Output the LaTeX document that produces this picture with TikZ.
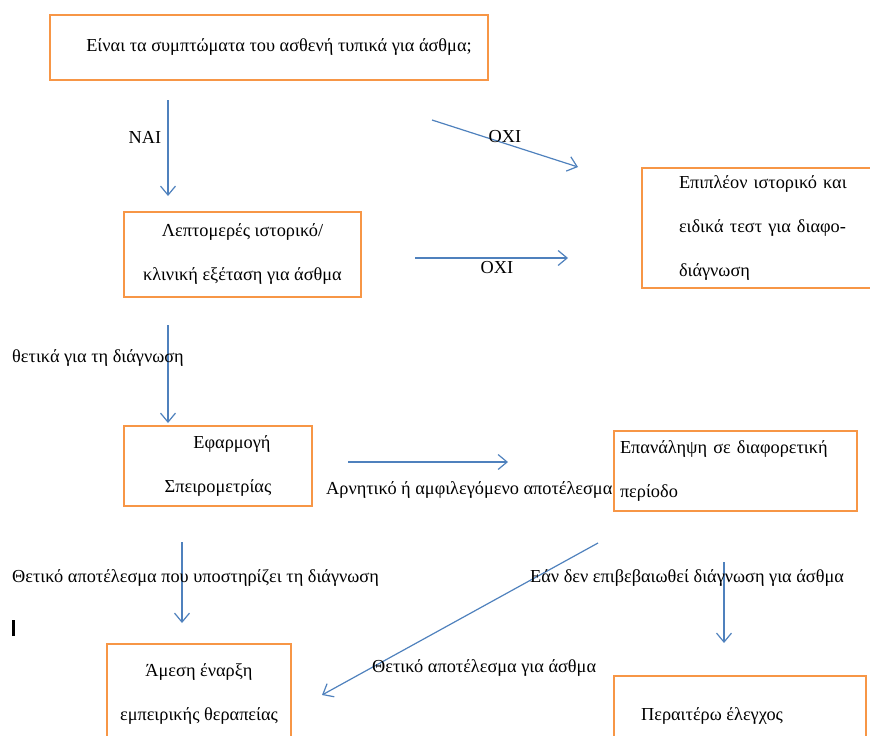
\documentclass[tikz,border=0pt]{standalone}
\usepackage{fontspec}
\setmainfont{Liberation Serif}
\usetikzlibrary{arrows.meta}
\definecolor{boxorange}{HTML}{F79646}
\definecolor{arrowblue}{HTML}{4F81BD}
\begin{document}
\begin{tikzpicture}[x=1pt,y=-1pt,
  box/.style={draw=boxorange, line width=2.9pt, inner sep=0pt, align=center,
    font=\fontsize{18.3}{44}\selectfont, text=black},
  lbl/.style={inner sep=0pt, font=\fontsize{18.3}{20}\selectfont, text=black},
  flow/.style={draw=arrowblue, line width=1.2pt, -{Straight Barb[length=9pt,width=15pt,line width=1.2pt]}}]
\useasboundingbox (0,0) rectangle (870,736);
% boxes
\node[box, minimum width=438pt, minimum height=65pt] (q) at (269,47.5)
  {\hspace*{20pt}Είναι τα συμπτώματα του ασθενή τυπικά για άσθμα;};
\node[box, minimum width=237pt, minimum height=85pt] (hist) at (242.5,254.5)
  {Λεπτομερές ιστορικό/\\κλινική εξέταση για άσθμα};
\node[box, minimum width=244pt, minimum height=120pt, text width=170pt, align=left,
  inner xsep=37pt] (more) at (764,228)
  {Επιπλέον ιστορικό και\\ειδικά τεστ για διαφο-\\διάγνωση};
\node[box, minimum width=188pt, minimum height=80pt] (spiro) at (218,466)
  {\hspace*{28pt}Εφαρμογή\\Σπειρομετρίας};
\node[box, minimum width=243pt, minimum height=80pt, text width=231pt, align=left,
  inner xsep=6pt] (rep) at (735.5,471)
  {Επανάληψη σε διαφορετική\\περίοδο};
\node[box, minimum width=184pt, minimum height=100pt] (treat) at (199,694)
  {Άμεση έναρξη\\εμπειρικής θεραπείας};
\node[box, minimum width=252pt, minimum height=80pt] (further) at (740,716)
  {\hspace*{-56pt}Περαιτέρω έλεγχος};
% arrow end points
\coordinate (a1s) at (168,100);  \coordinate (a1e) at (168,196);
\coordinate (a2s) at (432,120);  \coordinate (a2e) at (578,167);
\coordinate (a3s) at (415,258);  \coordinate (a3e) at (568,258);
\coordinate (a4s) at (168,325);  \coordinate (a4e) at (168,423);
\coordinate (a5s) at (348,462);  \coordinate (a5e) at (508,462);
\coordinate (a6s) at (182,542);  \coordinate (a6e) at (182,623);
\coordinate (a7s) at (598,543);  \coordinate (a7e) at (322,695);
\coordinate (a8s) at (724,562);  \coordinate (a8e) at (724,643);
\draw[flow] (a1s) -- (a1e);
\draw[flow] (a2s) -- (a2e);
\draw[flow] (a3s) -- (a3e);
\draw[flow] (a4s) -- (a4e);
\draw[flow] (a5s) -- (a5e);
\draw[flow] (a6s) -- (a6e);
\draw[flow] (a7s) -- (a7e);
\draw[flow] (a8s) -- (a8e);
% labels
\node[lbl] (l1) at (145,137) {ΝΑΙ};
\node[lbl] (l2) at (505,137) {ΟΧΙ};
\node[lbl] (l3) at (497,268) {ΟΧΙ};
\node[lbl, anchor=west] (l4) at (12,358) {θετικά για τη διάγνωση};
\node[lbl, anchor=west] (l5) at (326,490) {Αρνητικό ή αμφιλεγόμενο αποτέλεσμα};
\node[lbl, anchor=west] (l6) at (12,578) {Θετικό αποτέλεσμα που υποστηρίζει τη διάγνωση};
\node[lbl, anchor=west] (l7) at (530,578) {Εάν δεν επιβεβαιωθεί διάγνωση για άσθμα};
\node[lbl, anchor=west] (l8) at (372,668) {Θετικό αποτέλεσμα για άσθμα};
\node[inner sep=0pt] (cursor) at (13.5,628) {\rule{2.5pt}{16pt}};
\end{tikzpicture}
\end{document}
